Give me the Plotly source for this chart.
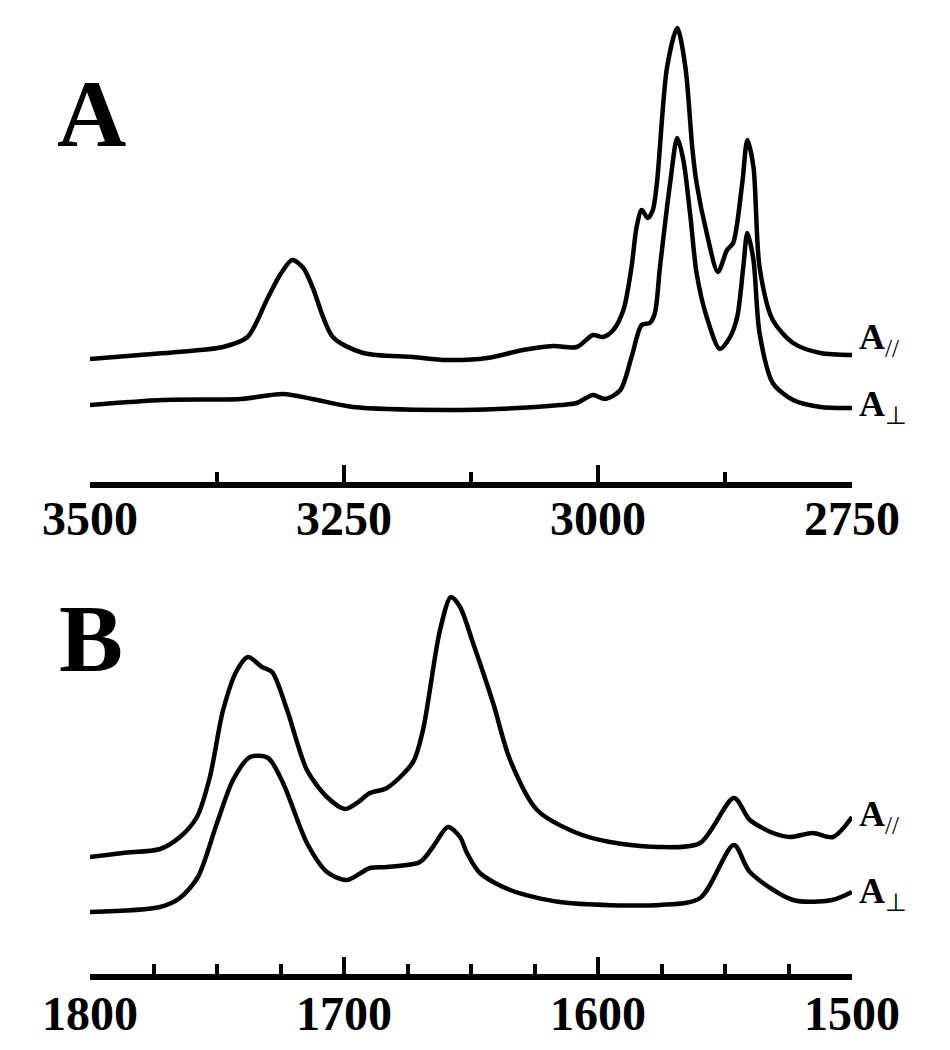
import plotly.graph_objects as go

# ---------------- Panel A : 3500-2750 cm-1 ----------------
a_par_x = [3500, 3451, 3402, 3369, 3345, 3326, 3313, 3301, 3290, 3281, 3261, 3231, 3182, 3149,
           3109, 3074, 3044, 3021, 3005, 2995, 2985, 2975, 2967, 2962, 2957, 2951, 2946, 2942,
           2932, 2922, 2914, 2907, 2903, 2893, 2882, 2873, 2867, 2858, 2853, 2847, 2841, 2828,
           2808, 2781, 2750]
a_par_y = [1.23, 1.27, 1.31, 1.35, 1.45, 1.82, 2.07, 2.22, 2.14, 1.95, 1.45, 1.29, 1.25, 1.22,
           1.24, 1.32, 1.36, 1.35, 1.47, 1.45, 1.52, 1.72, 2.15, 2.55, 2.72, 2.64, 2.72, 2.99,
           4.15, 4.54, 4.15, 3.32, 2.99, 2.49, 2.10, 2.32, 2.39, 2.99, 3.42, 3.15, 2.15, 1.62,
           1.39, 1.29, 1.27]

a_perp_x = [3500, 3428, 3352, 3310, 3281, 3241, 3149, 3099, 3037, 3021, 3005, 2993, 2978, 2967,
            2957, 2949, 2944, 2939, 2929, 2922, 2916, 2909, 2903, 2893, 2880, 2870, 2863, 2857,
            2853, 2847, 2841, 2828, 2808, 2781, 2750]
a_perp_y = [0.77, 0.82, 0.83, 0.88, 0.83, 0.75, 0.72, 0.73, 0.77, 0.79, 0.87, 0.83, 0.92, 1.25,
            1.57, 1.59, 1.69, 2.15, 2.99, 3.44, 3.22, 2.65, 2.09, 1.65, 1.33, 1.45, 1.65, 2.15,
            2.49, 2.22, 1.49, 0.99, 0.82, 0.75, 0.74]

# ---------------- Panel B : 1800-1500 cm-1 ----------------
b_par_x = [1800, 1787, 1772.4, 1764.6, 1757.9, 1752.8, 1747.6, 1742.1, 1737.8, 1732.3, 1728.3,
           1722.4, 1714.6, 1706.7, 1699.6, 1694.9, 1689.8, 1683.1, 1672.8, 1668.9, 1662.2,
           1657.9, 1654.3, 1649.2, 1641.3, 1634.6, 1624.0, 1608.3, 1595.3, 1576.8, 1559.8,
           1546.5, 1540.2, 1531.1, 1524.4, 1515.4, 1507.5, 1500]
b_par_y = [1.11, 1.15, 1.19, 1.31, 1.51, 1.91, 2.58, 2.98, 3.11, 3.01, 2.96,
           2.58, 1.98, 1.71, 1.59, 1.65, 1.75, 1.80, 2.06, 2.38, 3.38,
           3.71, 3.61, 3.25, 2.65, 2.08, 1.58, 1.35, 1.26, 1.21, 1.25,
           1.70, 1.48, 1.35, 1.31, 1.35, 1.31, 1.51]

b_perp_x = [1800, 1772.4, 1764.6, 1757.5, 1750, 1743.7, 1737, 1729.9, 1724, 1714.6, 1706.7,
            1698.8, 1689.8, 1683.1, 1670.1, 1665, 1659.1, 1654.3, 1651.6, 1646.5, 1634.6,
            1615, 1575.6, 1559.8, 1546.5, 1540.2, 1523.2, 1507.9, 1500]
b_perp_y = [0.56, 0.61, 0.70, 0.91, 1.45, 1.88, 2.11, 2.10, 1.85, 1.25, 0.96,
            0.88, 1.00, 1.01, 1.06, 1.21, 1.41, 1.31, 1.15, 0.95, 0.78,
            0.66, 0.63, 0.70, 1.23, 0.96, 0.68, 0.68, 0.76]

a_ticks = [3500, 3250, 3000, 2750]
b_ticks = [1800, 1700, 1600, 1500]

W, H = 950, 1050
OFF = 8  # page body margin
SERIF = "Liberation Serif, Times New Roman, serif"

fig = go.Figure()
line = dict(color="black", width=4.5, shape="spline", smoothing=0.8)
fig.add_trace(go.Scatter(x=a_par_x, y=a_par_y, mode="lines", line=line, xaxis="x", yaxis="y"))
fig.add_trace(go.Scatter(x=a_perp_x, y=a_perp_y, mode="lines", line=line, xaxis="x", yaxis="y"))
fig.add_trace(go.Scatter(x=b_par_x, y=b_par_y, mode="lines", line=line, xaxis="x2", yaxis="y2"))
fig.add_trace(go.Scatter(x=b_perp_x, y=b_perp_y, mode="lines", line=line, xaxis="x2", yaxis="y2"))

def px_x(p):
    return (p - OFF) / W

def px_y(p):
    return 1 - (p - OFF) / H

xdom = [px_x(90), px_x(852)]
tickfont = dict(family=SERIF, size=48, color="black", weight="bold")

common_x = dict(domain=xdom, showline=True, linecolor="black", linewidth=6,
                ticks="inside", ticklen=17, tickwidth=4, tickcolor="black",
                showgrid=False, zeroline=False, tickfont=tickfont,
                automargin=False)

fig.update_layout(
    width=W, height=H, margin=dict(l=0, r=0, t=0, b=0, autoexpand=False),
    paper_bgcolor="white", plot_bgcolor="white", showlegend=False,
    xaxis=dict(common_x, range=[3500, 2750], tickvals=a_ticks, anchor="y", ticklabelstandoff=-11,
               minor=dict(ticks="inside", ticklen=10, tickwidth=4, tickcolor="black", dtick=125, tick0=2750)),
    yaxis=dict(domain=[px_y(482), px_y(20)], range=[0, 4.62], visible=False, anchor="x",
               automargin=False),
    xaxis2=dict(common_x, range=[1800, 1500], tickvals=b_ticks, anchor="y2", ticklabelstandoff=-8,
                minor=dict(ticks="inside", ticklen=10, tickwidth=4, tickcolor="black", dtick=25, tick0=1500)),
    yaxis2=dict(domain=[px_y(974), px_y(560)], range=[-0.06, 4.08], visible=False, anchor="x2",
                automargin=False),
)

def label(text, x, y, size):
    fig.add_annotation(text=text, x=px_x(x), y=px_y(y), xref="paper", yref="paper",
                       xanchor="left", yanchor="middle", showarrow=False,
                       font=dict(family=SERIF, size=size, color="black"))

label("<b>A</b>", 55, 114, 96)
label("<b>B</b>", 57, 638, 96)
label("<b>A</b><sub>//</sub>", 857, 339, 36)
label("<b>A</b><sub>⊥</sub>", 857, 406, 36)
label("<b>A</b><sub>//</sub>", 857, 816, 36)
label("<b>A</b><sub>⊥</sub>", 857, 893, 36)

fig.write_html("out.html")
